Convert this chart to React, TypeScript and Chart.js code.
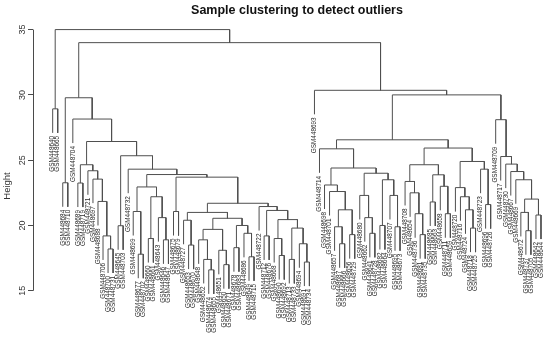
import React, { useEffect, useRef } from 'react';
import { Chart, registerables } from 'chart.js';

Chart.register(...registerables);

// ---------- text ----------
const chartTitle = 'Sample clustering to detect outliers';
const yAxisTitle = 'Height';
const yTickValues = [15, 20, 25, 30, 35];

// ---------- leaves, in dendrogram order ----------
const leafLabels = [
  'GSM448640', 'GSM448665', 'GSM448684', 'GSM448710', 'GSM448704', 'GSM448689', 'GSM448719', 'GSM448721',
  'GSM448697', 'GSM448688', 'GSM448706', 'GSM448700', 'GSM448731', 'GSM448645', 'GSM448703', 'GSM448732',
  'GSM448699', 'GSM448677', 'GSM448702', 'GSM448660', 'GSM448661', 'GSM448643', 'GSM448646', 'GSM448647',
  'GSM448675', 'GSM448679', 'GSM448727', 'GSM448653', 'GSM448670', 'GSM448648', 'GSM448652', 'GSM448674',
  'GSM448655', 'GSM448651', 'GSM448650', 'GSM448671', 'GSM448678', 'GSM448683', 'GSM448686', 'GSM448649',
  'GSM448715', 'GSM448722', 'GSM448712', 'GSM448676', 'GSM448668', 'GSM448690', 'GSM448692', 'GSM448713',
  'GSM448733', 'GSM448694', 'GSM448691', 'GSM448734', 'GSM448693', 'GSM448714', 'GSM448698', 'GSM448701',
  'GSM448657', 'GSM448687', 'GSM448666', 'GSM448656', 'GSM448729', 'GSM448680', 'GSM448662', 'GSM448641',
  'GSM448728', 'GSM448682', 'GSM448664', 'GSM448707', 'GSM448695', 'GSM448673', 'GSM448708', 'GSM448654',
  'GSM448736', 'GSM448681', 'GSM448735', 'GSM448685', 'GSM448663', 'GSM448658', 'GSM448711', 'GSM448659',
  'GSM448720', 'GSM448716', 'GSM448724', 'GSM448718', 'GSM448725', 'GSM448723', 'GSM448696', 'GSM448726',
  'GSM448709', 'GSM448717', 'GSM448730', 'GSM448667', 'GSM448669', 'GSM448672', 'GSM448737', 'GSM448705',
  'GSM448642', 'GSM448644',
];

// ---------- merges: [height, left, right]; a number is a leaf index ----------
type Node = number | [number, Node, Node];

const outlierPair: Node = [28.93, 0, 1];

const groupL4: Node = [24.65, [23.25, 5, 6], [24.19, 7, [23.55, 8, [21.84, 9, [19.2, 10, [18.2, 11, 12]]]]]];

const groupA: Node = [22.95, [21.07, 16, [17.8, 17, 18]], [22.2, [19.0, 19, 20], [20.6, 21, [18.9, 22, 23]]]];

const groupD: Node = [21.0,
  [20.4, 26, [18.5, 27, 28]],
  [20.55,
    [19.7, [18.9, 29, [17.4, 30, [16.6, 31, 32]]], [18.1, 33, [17.0, 34, 35]]],
    [20.0, [18.3, 36, 37], [19.4, 38, [17.6, 39, 40]]]]];

const groupE: Node = [21.45, 41,
  [21.15, [19.2, 42, 43],
    [20.45, [19.0, 44, [17.7, 45, 46]], [19.8, [17.4, 47, 48], [18.6, 49, [17.2, 50, 51]]]]]];

const leftCluster: Node = [29.78, [23.27, 2, 3],
  [28.15, 4,
    [26.43, groupL4,
      [25.34, [19.98, 13, 14],
        [24.31, 15,
          [23.9, groupA,
            [23.7, [21.07, 24, 25], [21.7, groupD, groupE]]]]]]]];

const groupR2a: Node = [25.87, 53,
  [24.4,
    [23.1, 54, [22.6, 55, [21.2, [19.9, 56, [18.6, 57, 58]], [19.3, 59, 60]]]],
    [24.0, [22.3, 61, [20.6, 62, [19.4, 63, 64]]], [23.5, [20.0, 65, 66], [22.3, 67, [19.9, 68, 69]]]]]];

const groupR2b: Node = [25.93,
  [24.65, [23.37, 70, [22.5, 71, [20.9, 72, [19.3, 73, 74]]]], [23.88, [21.8, 75, 76], [23.0, 77, [20.9, 78, 79]]]],
  [24.9, [22.9, 80, [22.2, 81, [21.2, 82, [19.8, 83, 84]]]], [24.31, 85, [21.6, 86, 87]]]];

const groupR3: Node = [28.1, 88, [25.28, 89, [24.7, 90, [24.13, 91, [23.5, 92,
  [22.02, [21.0, 93, [19.6, 94, 95]], [20.8, 96, 97]]]]]]];

const rightCluster: Node = [30.35, 52, [30.0, [26.56, groupR2a, groupR2b], groupR3]];

const dendrogram: Node = [35.0, outlierPair, [34.0, leftCluster, rightCluster]];

// ---------- build drawable segments from the merges ----------
function collectHeights(n: Node, out: number[]) {
  if (typeof n === 'number') return;
  out.push(n[0]);
  collectHeights(n[1], out);
  collectHeights(n[2], out);
}

function buildTree(root: Node) {
  const hs: number[] = [];
  collectHeights(root, hs);
  const hang = 0.1 * (Math.max(...hs) - Math.min(...hs));
  const segs: { x: number; y: number }[][] = [];
  const leafBottom: number[] = new Array(leafLabels.length).fill(0);
  const walk = (n: Node): { x: number; h: number; leaf: boolean } => {
    if (typeof n === 'number') return { x: n, h: NaN, leaf: true };
    const [h, l, r] = n;
    const L = walk(l);
    const R = walk(r);
    const yl = L.leaf ? h - hang : L.h;
    const yr = R.leaf ? h - hang : R.h;
    if (L.leaf) leafBottom[L.x] = yl;
    if (R.leaf) leafBottom[R.x] = yr;
    segs.push([
      { x: L.x, y: yl },
      { x: L.x, y: h },
      { x: R.x, y: h },
      { x: R.x, y: yr },
    ]);
    return { x: (L.x + R.x) / 2, h, leaf: false };
  };
  walk(root);
  return { segs, leafBottom };
}

const FONT = '"Liberation Sans", Arial, sans-serif';

export default function App() {
  const ref = useRef<HTMLCanvasElement>(null);

  useEffect(() => {
    if (!ref.current) return;
    const { segs, leafBottom } = buildTree(dendrogram);

    const textPlugin = {
      id: 'dendroText',
      afterDraw(chart: any) {
        const ctx = chart.ctx as CanvasRenderingContext2D;
        const xs = chart.scales.x;
        const ys = chart.scales.y;
        const left = chart.chartArea.left;
        ctx.save();
        // axis line across the tick range (R style)
        ctx.strokeStyle = '#4a4a4a';
        ctx.lineWidth = 1;
        const ax = Math.round(left) + 0.5;
        ctx.beginPath();
        ctx.moveTo(ax, ys.getPixelForValue(yTickValues[0]));
        ctx.lineTo(ax, ys.getPixelForValue(yTickValues[yTickValues.length - 1]));
        ctx.stroke();
        // tick labels, rotated
        ctx.fillStyle = '#333';
        ctx.font = `9px ${FONT}`;
        ctx.textAlign = 'center';
        ctx.textBaseline = 'alphabetic';
        ys.ticks.forEach((t: any) => {
          const py = ys.getPixelForValue(t.value);
          ctx.save();
          ctx.translate(left - 8, py);
          ctx.rotate(-Math.PI / 2);
          ctx.fillText(String(t.value), 0, 0);
          ctx.restore();
        });
        // axis title
        ctx.font = `9.5px ${FONT}`;
        ctx.save();
        ctx.translate(10, 186);
        ctx.rotate(-Math.PI / 2);
        ctx.fillText(yAxisTitle, 0, 0);
        ctx.restore();
        // chart title
        ctx.fillStyle = '#111';
        ctx.font = `bold 12.5px ${FONT}`;
        ctx.textAlign = 'center';
        ctx.textBaseline = 'middle';
        ctx.fillText(chartTitle, 297, 11);
        // leaf labels
        ctx.fillStyle = '#2a2a2a';
        ctx.font = `6.4px ${FONT}`;
        ctx.textAlign = 'right';
        ctx.textBaseline = 'middle';
        leafLabels.forEach((lab, i) => {
          const px = xs.getPixelForValue(i);
          const py = ys.getPixelForValue(leafBottom[i]) + 3;
          ctx.save();
          ctx.translate(px, py);
          ctx.rotate(-Math.PI / 2);
          ctx.fillText(lab, 0, 0);
          ctx.restore();
        });
        ctx.restore();
      },
    };

    const chart = new Chart(ref.current, {
      type: 'scatter',
      data: {
        datasets: segs.map((pts) => ({
          data: pts,
          showLine: true,
          borderColor: '#4f4f4f',
          borderWidth: 1,
          pointRadius: 0,
          pointHoverRadius: 0,
          fill: false,
          tension: 0,
        })),
      },
      options: {
        responsive: false,
        animation: false,
        events: [],
        layout: { padding: { top: 10, left: 0, right: 0, bottom: 0 } },
        plugins: {
          legend: { display: false },
          tooltip: { enabled: false },
          title: { display: false },
        },
        scales: {
          x: { type: 'linear', display: false, min: -3.91, max: 98.79 },
          y: {
            type: 'linear',
            min: 11,
            max: 36.5,
            afterBuildTicks: (scale: any) => {
              scale.ticks = yTickValues.map((v) => ({ value: v }));
            },
            afterFit: (scale: any) => {
              scale.width = 33;
            },
            border: { display: false },
            grid: {
              display: true,
              drawOnChartArea: false,
              drawTicks: true,
              tickLength: 5,
              color: '#4a4a4a',
            },
            ticks: { display: false },
          },
        },
      },
      plugins: [textPlugin],
    } as any);

    return () => chart.destroy();
  }, []);

  return (
    <div style={{ position: 'absolute', left: 0, top: 0, width: 550, height: 343, background: '#fff' }}>
      <canvas ref={ref} width={550} height={343} style={{ width: 550, height: 343, display: 'block' }} />
    </div>
  );
}
